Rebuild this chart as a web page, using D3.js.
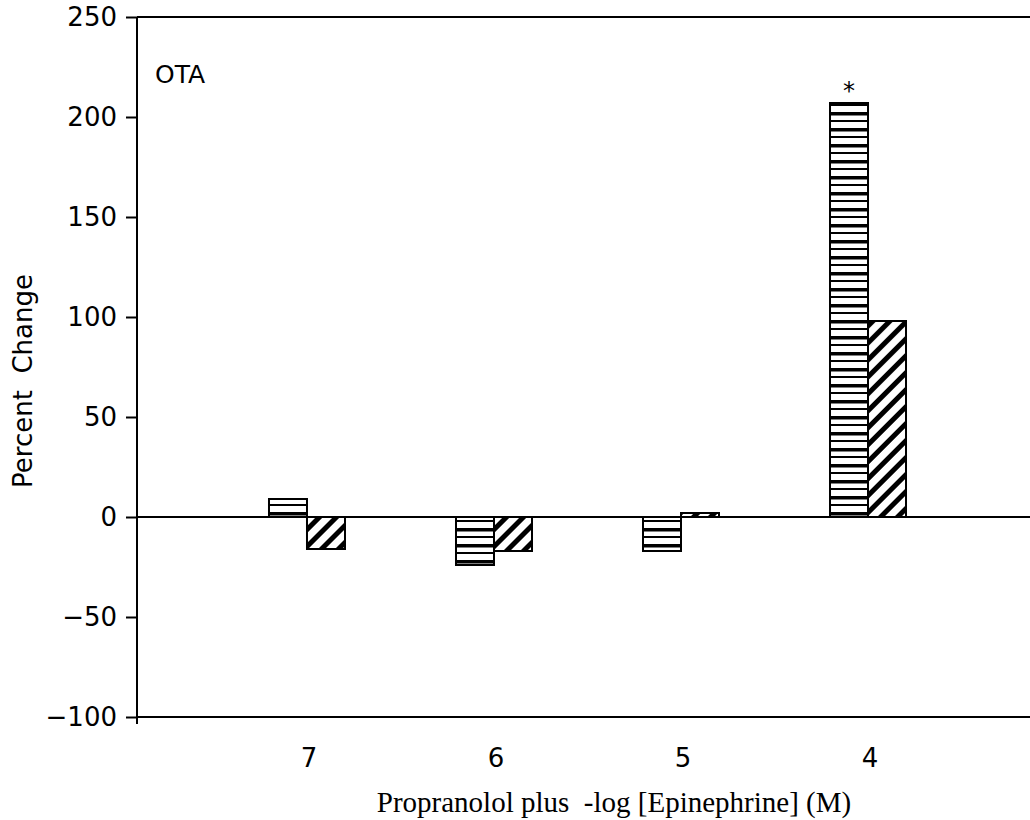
<!DOCTYPE html>
<html>
<head>
<meta charset="utf-8">
<script src="https://cdn.jsdelivr.net/npm/d3@7"></script>
<style>
  body { margin: 0; background: #fff; }
  text { fill: #000; }
</style>
</head>
<body>
<div id="chart"></div>
<script>
var doses = ["7", "6", "5", "4"];
var series = ["stripes", "hatch"];
var stripesValues = [9, -24, -17, 207];
var hatchValues = [-16, -17, 2, 98];
var yTicks = [250, 200, 150, 100, 50, 0, -50, -100];

var width = 1030,
  height = 820;

var svg = d3
  .select("#chart")
  .append("svg")
  .attr("width", width)
  .attr("height", height);

var defs = svg.append("defs");

// horizontal stripes, thick and thin lines alternating
var p1 = defs
  .append("pattern")
  .attr("id", "stripes")
  .attr("patternUnits", "userSpaceOnUse")
  .attr("width", 10)
  .attr("height", 16);
p1.append("rect").attr("width", 10).attr("height", 16).attr("fill", "#fff");
p1.append("rect").attr("y", 0).attr("width", 10).attr("height", 3.5).attr("fill", "#000");
p1.append("rect").attr("y", 8).attr("width", 10).attr("height", 2).attr("fill", "#000");

// diagonal hatch "/"
var p2 = defs
  .append("pattern")
  .attr("id", "hatch")
  .attr("patternUnits", "userSpaceOnUse")
  .attr("width", 12)
  .attr("height", 12)
  .attr("patternTransform", "rotate(45)");
p2.append("rect").attr("width", 12).attr("height", 12).attr("fill", "#fff");
p2.append("rect").attr("x", 0).attr("width", 5).attr("height", 12).attr("fill", "#000");

var y = d3.scaleLinear().domain([-100, 250]).range([717, 17]);

var x0 = d3
  .scalePoint()
  .domain(doses)
  .range([137, 1038])
  .padding(0.909);

var x1 = d3.scaleBand().domain(series).range([-38, 38]);

// left axis
var yAxis = d3.axisLeft(y).tickValues(yTicks).tickSize(11).tickFormat(d3.format("d"));
var ya = svg.append("g").attr("transform", "translate(137,0)").call(yAxis);
ya.select(".domain").attr("stroke", "#000").attr("stroke-width", 2).attr("d", "M0,17V724");
ya.selectAll(".tick line").attr("stroke", "#000").attr("stroke-width", 2);
ya.selectAll(".tick text")
  .attr("x", -20)
  .style("font-family", "DejaVu Sans, sans-serif")
  .style("font-size", "26px")
  .text(function (d) {
    return d < 0 ? "\u2212" + Math.abs(d) : d;
  });

// top, zero and bottom lines
[250, 0, -100].forEach(function (v) {
  svg
    .append("line")
    .attr("x1", 137)
    .attr("x2", width)
    .attr("y1", y(v))
    .attr("y2", y(v))
    .attr("stroke", "#000")
    .attr("stroke-width", 2);
});

// bars
var rows = doses.map(function (d, i) {
  return { dose: d, stripes: stripesValues[i], hatch: hatchValues[i] };
});

var groups = svg
  .selectAll("g.group")
  .data(rows)
  .join("g")
  .attr("class", "group")
  .attr("transform", function (d) {
    return "translate(" + x0(d.dose) + ",0)";
  });

groups
  .selectAll("rect")
  .data(function (d) {
    return series.map(function (s) {
      return { key: s, value: d[s] };
    });
  })
  .join("rect")
  .attr("x", function (d) {
    return x1(d.key);
  })
  .attr("width", x1.bandwidth())
  .attr("y", function (d) {
    return y(Math.max(0, d.value));
  })
  .attr("height", function (d) {
    return Math.abs(y(d.value) - y(0));
  })
  .attr("fill", function (d) {
    return "url(#" + d.key + ")";
  })
  .attr("stroke", "#000")
  .attr("stroke-width", 2);

// x labels
svg
  .selectAll("text.xlab")
  .data(doses)
  .join("text")
  .attr("class", "xlab")
  .attr("x", function (d) {
    return x0(d) + 2;
  })
  .attr("y", 767)
  .attr("text-anchor", "middle")
  .style("font-family", "DejaVu Sans, sans-serif")
  .style("font-size", "26px")
  .text(function (d) {
    return d;
  });

// significance mark
svg
  .append("text")
  .attr("x", x0("4") + x1("stripes") + x1.bandwidth() / 2)
  .attr("y", y(207) - 4)
  .attr("text-anchor", "middle")
  .style("font-family", "DejaVu Sans, sans-serif")
  .style("font-size", "24px")
  .text("*");

svg
  .append("text")
  .attr("x", 155)
  .attr("y", 83)
  .style("font-family", "DejaVu Sans, sans-serif")
  .style("font-size", "25px")
  .text("OTA");

svg
  .append("text")
  .attr("transform", "translate(32,381) rotate(-90)")
  .attr("text-anchor", "middle")
  .style("font-family", "DejaVu Sans, sans-serif")
  .style("font-size", "26px")
  .style("white-space", "pre")
  .text("Percent  Change");

svg
  .append("text")
  .attr("x", 614)
  .attr("y", 812)
  .attr("text-anchor", "middle")
  .style("font-family", "Liberation Serif, Times New Roman, serif")
  .style("font-size", "29px")
  .style("white-space", "pre")
  .text("Propranolol plus  -log [Epinephrine] (M)");
</script>
</body>
</html>
